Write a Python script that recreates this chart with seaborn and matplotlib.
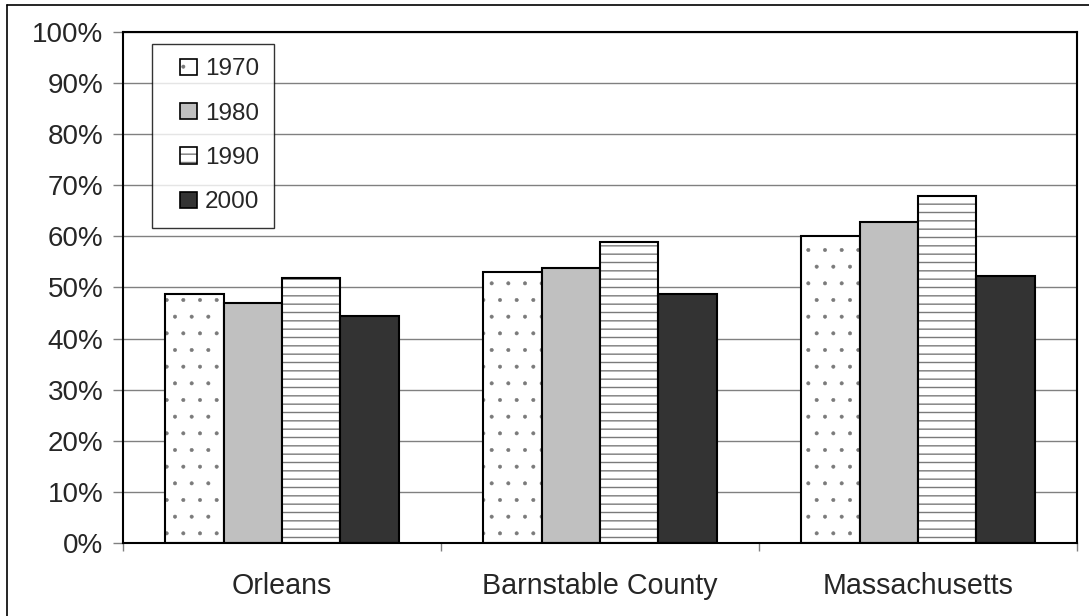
import matplotlib
matplotlib.use("Agg")
import matplotlib.pyplot as plt
import matplotlib.colors as mcolors
from matplotlib.patches import Patch, Rectangle
from matplotlib.lines import Line2D
from matplotlib.legend_handler import HandlerPatch
from matplotlib.ticker import FixedLocator, PercentFormatter
import seaborn as sns
import pandas as pd

# Share of population by area and census year (percent)
areas = ["Orleans", "Barnstable County", "Massachusetts"]
years = ["1970", "1980", "1990", "2000"]
share_1970 = [48.8, 53.0, 60.1]
share_1980 = [46.9, 53.8, 62.8]
share_1990 = [51.9, 58.9, 67.9]
share_2000 = [44.5, 48.7, 52.2]

fills = {"1970": "#ffffff", "1980": "#c0c0c0", "1990": "#ffffff", "2000": "#333333"}
hatches = {"1970": ".", "1980": "", "1990": "--", "2000": ""}
hatch_widths = {"1970": 0.4, "1980": 1.0, "1990": 1.0, "2000": 1.0}

rows = []
for yr, vals in zip(years, [share_1970, share_1980, share_1990, share_2000]):
    for area, v in zip(areas, vals):
        rows.append({"area": area, "year": yr, "share": v})
df = pd.DataFrame(rows)

sns.set_theme(style="white")
plt.rcParams["font.family"] = ["Liberation Sans", "DejaVu Sans"]
plt.rcParams["hatch.linewidth"] = 1.0

fig = plt.figure(figsize=(10.89, 6.16), dpi=100)
ax = fig.add_axes([123 / 1089, 1 - 543 / 616, (1077 - 123) / 1089, (543 - 32) / 616])

sns.barplot(data=df, x="area", y="share", hue="year", order=areas, hue_order=years,
            palette=fills, width=0.733, dodge=True, edgecolor="black", linewidth=1.5,
            saturation=1, ax=ax, legend=False)

hatch_gray = mcolors.to_rgba("#7a7a7a")


def style_hatch(p, yr):
    p.set_hatch(hatches[yr])
    p._hatch_color = hatch_gray
    p._hatch_linewidth = hatch_widths[yr]


for cont, yr in zip(ax.containers, years):
    for p in cont.patches:
        style_hatch(p, yr)

ax.set_ylim(0, 100)
ax.set_xlim(-0.5, len(areas) - 0.5)
ax.yaxis.set_major_locator(FixedLocator(range(0, 101, 10)))
ax.yaxis.set_major_formatter(PercentFormatter(decimals=0))
ax.grid(axis="y", color="#808080", linewidth=1.0)
ax.set_axisbelow(True)

ax.set_xlabel("")
ax.set_ylabel("")
ax.tick_params(axis="y", which="major", direction="out", length=7, width=1,
               color="#808080", pad=7, labelsize=20, left=True)
ax.tick_params(axis="x", which="major", length=0, pad=21, labelsize=20.6, bottom=True)
ax.xaxis.set_minor_locator(FixedLocator([-0.5, 0.5, 1.5, 2.5]))
ax.tick_params(axis="x", which="minor", direction="out", length=6, width=1,
               color="#808080", bottom=True)

for s in ax.spines.values():
    s.set_color("black")
    s.set_linewidth(1.5)


def square_key(legend, orig_handle, xdescent, ydescent, width, height, fontsize):
    # small square key, pushed to the right end of the handle box
    s = 0.68 * fontsize
    return Rectangle((-xdescent + width - s, -ydescent + (height - s) / 2), s, s)


handles = [Patch(facecolor=fills[y], edgecolor="black", hatch=hatches[y], linewidth=1.2)
           for y in years]
leg = ax.legend(handles, years, loc="upper left", bbox_to_anchor=(0.030, 0.977),
                borderaxespad=0, fontsize=17.5, frameon=True, fancybox=False,
                edgecolor="black", handlelength=1.25, handleheight=0.7,
                handletextpad=0.35, labelspacing=0.92, borderpad=0.6,
                handler_map={Patch: HandlerPatch(patch_func=square_key)})
leg.get_frame().set_linewidth(1.0)
for h, yr in zip(leg.legend_handles, years):
    style_hatch(h, yr)

# Outer chart border
fig.add_artist(Line2D([7 / 1089, 7 / 1089], [0, 1 - 5 / 616], color="black", linewidth=1.2))
fig.add_artist(Line2D([7 / 1089, 1], [1 - 5 / 616, 1 - 5 / 616], color="black", linewidth=1.2))

fig.savefig("out.png", dpi=100)
